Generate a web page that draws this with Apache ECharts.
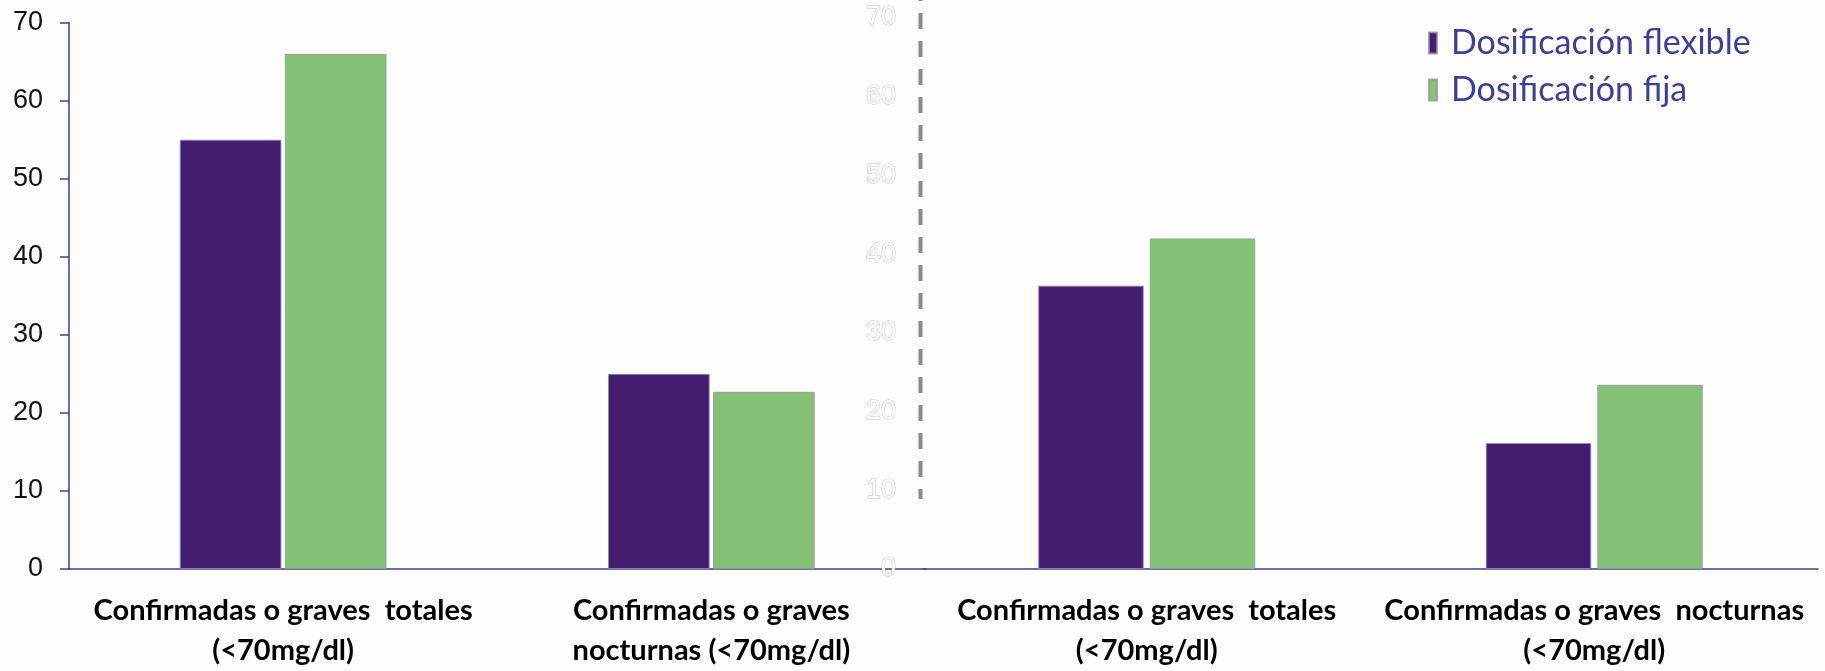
<!DOCTYPE html>
<html>
<head>
<meta charset="utf-8">
<script src="https://cdn.jsdelivr.net/npm/echarts@6/dist/echarts.min.js"></script>
<style>
  html, body { margin: 0; padding: 0; background: #fdfdfd; }
  #chart { width: 1825px; height: 671px; }
</style>
</head>
<body>
<div id="chart"></div>
<script>
// Hypoglycaemia events: flexible vs fixed dosing, two panels
const seriesNames = ['Dosificación flexible', 'Dosificación fija'];

const categoriesLeft = [
  'Confirmadas o graves  totales\n(<70mg/dl)',
  'Confirmadas o graves\nnocturnas (<70mg/dl)'
];
const categoriesRight = [
  'Confirmadas o graves  totales\n(<70mg/dl)',
  'Confirmadas o graves  nocturnas\n(<70mg/dl)'
];

const flexibleLeft = [55, 25];
const fixedLeft = [66, 22.7];
const flexibleRight = [36, 16];
const fixedRight = [42, 23.4];

const yMin = 0, yMax = 70, yStep = 10;

const PURPLE = '#431d70';
const GREEN = '#86c276';
const NAVY = '#3c3f8f';
const catFont = 'Lato, sans-serif';

const chart = echarts.init(document.getElementById('chart'), null, { renderer: 'canvas' });

function xAxisFor(gridIndex, data) {
  return {
    type: 'category',
    gridIndex: gridIndex,
    data: data,
    axisLine: { show: true, lineStyle: { color: NAVY, width: 1.5 } },
    axisTick: { show: false },
    axisLabel: {
      interval: 0,
      margin: 22,
      fontFamily: catFont,
      fontWeight: 'bold',
      fontSize: 29,
      lineHeight: 40,
      color: '#000'
    }
  };
}

const option = {
  backgroundColor: '#fdfdfd',
  animation: false,
  legend: {
    orient: 'vertical',
    left: 1423,
    top: 21,
    icon: 'rect',
    itemWidth: 8,
    itemHeight: 21,
    itemGap: 13,
    data: seriesNames,
    textStyle: {
      fontFamily: 'Lato, sans-serif',
      fontSize: 34,
      color: '#3d3f96',
      padding: [0, 0, 0, 9]
    }
  },
  grid: [
    { left: 69, right: 899.5, top: 22.6, bottom: 101 },
    { left: 923, right: 7, top: 18, bottom: 100 }
  ],
  xAxis: [xAxisFor(0, categoriesLeft), xAxisFor(1, categoriesRight)],
  yAxis: [
    {
      type: 'value',
      gridIndex: 0,
      min: yMin, max: yMax, interval: yStep,
      splitLine: { show: false },
      axisLine: { show: true, lineStyle: { color: NAVY, width: 1.5 } },
      axisTick: { show: true, length: 9, lineStyle: { color: NAVY, width: 1.5 } },
      axisLabel: {
        margin: 26,
        fontFamily: 'Liberation Sans, Arial, sans-serif',
        fontSize: 27,
        color: '#111'
      }
    },
    {
      type: 'value',
      gridIndex: 1,
      min: yMin, max: yMax, interval: yStep,
      splitLine: { show: false },
      axisLine: { show: false },
      axisTick: { show: false },
      axisLabel: {
        margin: 27,
        fontFamily: 'Liberation Sans, Arial, sans-serif',
        fontSize: 27,
        color: '#ffffff',
        textBorderColor: '#c4c4c4',
        textBorderWidth: 1
      }
    }
  ],
  series: [
    {
      name: seriesNames[0], type: 'bar', xAxisIndex: 0, yAxisIndex: 0,
      data: flexibleLeft, barWidth: 101.7, barGap: '3.3%',
      itemStyle: { color: PURPLE, borderColor: 'rgba(150,140,170,0.8)', borderWidth: 1 }
    },
    {
      name: seriesNames[1], type: 'bar', xAxisIndex: 0, yAxisIndex: 0,
      data: fixedLeft, barWidth: 101.7, barGap: '3.3%',
      itemStyle: { color: GREEN, borderColor: 'rgba(150,150,150,0.8)', borderWidth: 1 }
    },
    {
      name: seriesNames[0], type: 'bar', xAxisIndex: 1, yAxisIndex: 1,
      data: flexibleRight, barWidth: 105.5, barGap: '5.7%',
      itemStyle: { color: PURPLE, borderColor: 'rgba(150,140,170,0.8)', borderWidth: 1 }
    },
    {
      name: seriesNames[1], type: 'bar', xAxisIndex: 1, yAxisIndex: 1,
      data: fixedRight, barWidth: 105.5, barGap: '5.7%',
      itemStyle: { color: GREEN, borderColor: 'rgba(150,150,150,0.8)', borderWidth: 1 }
    }
  ],
  graphic: [
    {
      // dashed divider between the two panels
      type: 'line',
      silent: true,
      shape: { x1: 920.5, y1: -15, x2: 920.5, y2: 499 },
      style: { stroke: '#8a8a8a', lineWidth: 4, lineDash: [16, 12] }
    }
  ]
};

chart.setOption(option);
</script>
</body>
</html>
